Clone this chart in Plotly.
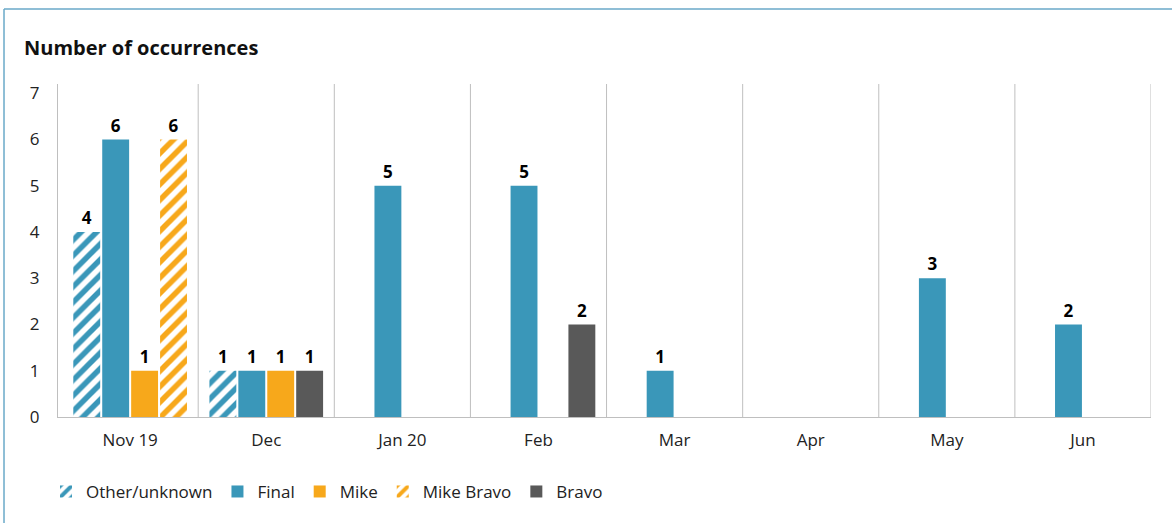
import plotly.graph_objects as go

categories = ["Nov 19", "Dec", "Jan 20", "Feb", "Mar", "Apr", "May", "Jun"]
other_unknown = [4, 1, None, None, None, None, None, None]
final = [6, 1, 5, 5, 1, None, 3, 2]
mike = [1, 1, None, None, None, None, None, None]
mike_bravo = [6, None, None, None, None, None, None, None]
bravo = [None, 1, None, 2, None, None, None, None]
y_ticks = [0, 1, 2, 3, 4, 5, 6, 7]

BLUE = "#3A97B9"
ORANGE = "#F7A81B"
GREY = "#595959"
FONT = "Open Sans, Lato, sans-serif"

xs = list(range(len(categories)))

series = [
    ("Other/unknown", other_unknown, BLUE, True, "1"),
    ("Final", final, BLUE, False, "2"),
    ("Mike", mike, ORANGE, False, "3"),
    ("Mike Bravo", mike_bravo, ORANGE, True, "4"),
    ("Bravo", bravo, GREY, False, "4"),
]

fig = go.Figure()
for name, vals, col, hatched, og in series:
    marker = dict(color=col, line=dict(width=0))
    if hatched:
        marker = dict(color="white", line=dict(width=0),
                      pattern=dict(shape="/", fgcolor=col, bgcolor="white",
                                   fgopacity=1, size=11, solidity=0.5,
                                   fillmode="replace"))
    fig.add_trace(go.Bar(
        x=xs, y=vals, name=name, marker=marker, offsetgroup=og,
        text=[("" if v is None else str(v)) for v in vals],
        textposition="outside", cliponaxis=False,
        textfont=dict(family=FONT, size=17, color="black", weight="bold"),
    ))

shapes = []
for i in range(len(categories)):
    shapes.append(dict(type="line", xref="x", yref="y", x0=i + 0.5, x1=i + 0.5,
                       y0=0, y1=7.2, line=dict(color="#BFBFBF", width=1)))
# outer frame (top and left)
shapes.append(dict(type="line", xref="paper", yref="paper", x0=-0.0494, x1=1.05,
                   y0=1.2252, y1=1.2252, line=dict(color="#6AA9C9", width=1.5)))
shapes.append(dict(type="line", xref="paper", yref="paper", x0=-0.0494, x1=-0.0494,
                   y0=1.2252, y1=-0.4, line=dict(color="#6AA9C9", width=1.5)))

fig.update_layout(
    width=1172, height=523,
    margin=dict(l=58, r=21, t=84, b=106),
    paper_bgcolor="white", plot_bgcolor="white",
    barmode="group", bargap=0.15, bargroupgap=0.07,
    font=dict(family=FONT, size=17, color="#222222"),
    shapes=shapes,
    showlegend=True,
    legend=dict(orientation="h", x=-0.011, xanchor="left", y=-0.225, yanchor="middle",
                font=dict(size=17, color="#222222"), traceorder="normal",
                itemwidth=30),
    annotations=[dict(text="<b>Number of occurrences</b>", xref="paper", yref="paper",
                      x=-0.0325, y=1.111, xanchor="left", yanchor="middle",
                      showarrow=False, font=dict(family=FONT, size=20, color="#111111"))],
)
fig.update_xaxes(range=[-0.53, 7.5], tickvals=xs, ticktext=categories, showgrid=False,
                 showline=True, linecolor="#BFBFBF", linewidth=1, ticks="",
                 ticklabelstandoff=8, zeroline=False)
fig.update_yaxes(range=[0, 7.2], tickvals=y_ticks, showgrid=False, showline=True,
                 linecolor="#BFBFBF", linewidth=1, ticks="", ticklabelstandoff=14,
                 zeroline=False)

fig.write_html("out.html")
